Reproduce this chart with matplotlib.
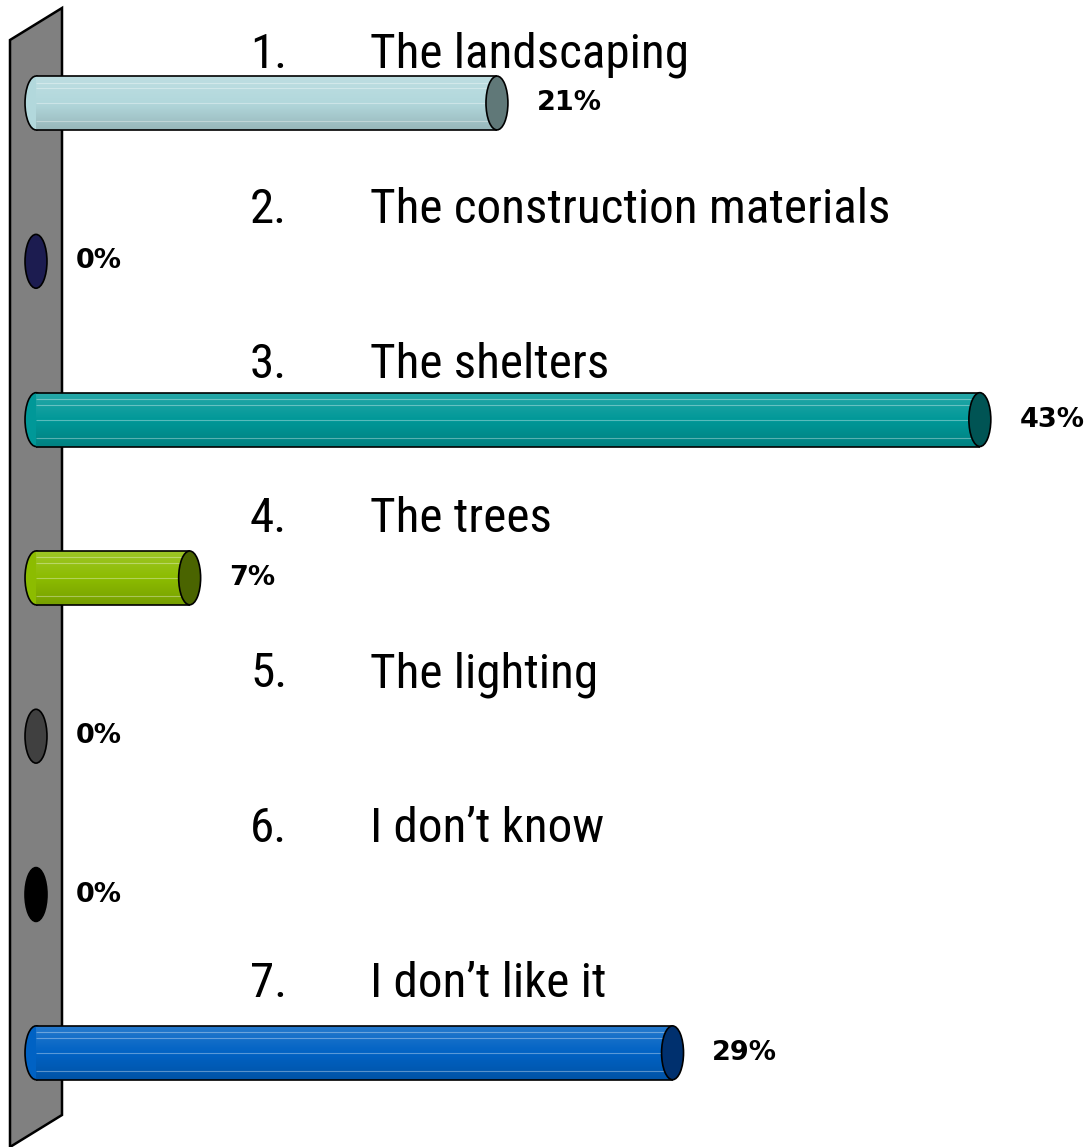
import numpy as np
import matplotlib.pyplot as plt
from matplotlib import font_manager
from matplotlib.patches import Ellipse, Polygon
from matplotlib.colors import LinearSegmentedColormap, to_rgb

# Data
numbers = ['1.', '2.', '3.', '4.', '5.', '6.', '7.']
categories = ['The landscaping', 'The construction materials', 'The shelters',
              'The trees', 'The lighting', 'I don\u2019t know', 'I don\u2019t like it']
values = [21, 0, 43, 7, 0, 0, 29]
body_colors = ['#B2D8DC', '#2A2A70', '#009898', '#8CBC00', '#5A5A5A', '#202020', '#0062C4']
cap_colors = ['#607878', '#1C1C50', '#005454', '#4A6400', '#404040', '#000000', '#00306E']

# pixel layout -> data units
px_per_unit = 21.95
x0_px = 36
bar_h = 0.34

fig = plt.figure(figsize=(10.84, 11.47), dpi=100)
ax = fig.add_axes([0, 0, 1, 1])
ax.set_xlim(-x0_px / px_per_unit, (1084 - x0_px) / px_per_unit)
ax.set_ylim((1147 - 103) / 158.3, -103 / 158.3)
ax.axis('off')
r = fig.canvas.get_renderer()

# pick the narrowest regular sans face among narrow/condensed fonts
sans = ('noto sans', 'open sans', 'roboto', 'dejavu sans', 'liberation sans', 'lato', 'inter')
cands = []
for f in font_manager.fontManager.ttflist:
    nm = f.name.lower()
    if 'mono' in nm or not nm.startswith(sans):
        continue
    if ('narrow' in nm or 'condensed' in nm or str(f.stretch) in ('condensed', 'semi-condensed', 'extra-condensed', 'ultra-condensed')) \
            and f.weight in ('normal', 400, 'regular', 'book') and f.style == 'normal':
        cands.append(f.fname)
best, best_w = None, None
for fn in cands:
    try:
        t = ax.text(0, 0, categories[1], fontproperties=font_manager.FontProperties(fname=fn, size=40))
        w = t.get_window_extent(r).width
        t.remove()
    except Exception:
        continue
    if best_w is None or w < best_w:
        best, best_w = fn, w

def px(x):
    return (x - x0_px) / px_per_unit

def py(y):
    return (y - 103) / 158.3

# the wall
wall = Polygon([(px(10), py(40)), (px(62), py(8)), (px(62), py(1115)), (px(10), py(1147))],
               closed=True, facecolor='#808080', edgecolor='black', lw=1.8, zorder=1)
ax.add_patch(wall)

def blend(c, other, t):
    c = np.array(to_rgb(c))
    o = np.array(to_rgb(other))
    return tuple(c * (1 - t) + o * t)

cap_w = 1.0
for i, (v, bc, cc) in enumerate(zip(values, body_colors, cap_colors)):
    if v > 0:
        # left rounded end
        ax.add_patch(Ellipse((0, i), cap_w, bar_h, facecolor=bc, edgecolor='black', lw=1.2, zorder=2))
        bars = ax.barh(i, v, height=bar_h, left=0, color=bc, edgecolor='none', zorder=3)
        cmap = LinearSegmentedColormap.from_list('g', [blend(bc, 'white', 0.15), bc, blend(bc, 'black', 0.15)])
        grad = np.linspace(0, 1, 64).reshape(-1, 1)
        im = ax.imshow(grad, cmap=cmap, aspect='auto', extent=[0, v, i + bar_h / 2, i - bar_h / 2],
                       zorder=3.1, interpolation='bilinear')
        im.set_clip_path(bars.patches[0])
        for f in (-0.38, -0.28, 0.0, 0.34):
            ax.hlines(i + f * bar_h, 0, v, colors='white', lw=0.8, alpha=0.35, zorder=3.2)
        ax.hlines([i - bar_h / 2, i + bar_h / 2], 0, v, colors='black', lw=1.2, zorder=3.3)
        ax.add_patch(Ellipse((v, i), cap_w, bar_h, facecolor=cc, edgecolor='black', lw=1.2, zorder=4))
    else:
        ax.add_patch(Ellipse((0, i), cap_w, bar_h, facecolor=cc, edgecolor='black', lw=1.2, zorder=4))
    ax.text(v + 1.8, i, f'{v}%', fontsize=19.5, fontweight='bold', family='DejaVu Sans',
            va='center', ha='left', color='black', zorder=5)

# category labels above the bars
labels = []
for i, (n, c) in enumerate(zip(numbers, categories)):
    yb = py(68 + 154.8 * i)
    t1 = ax.text(px(250), yb, n, fontsize=40, va='baseline', ha='left', color='black')
    t2 = ax.text(px(370), yb, c, fontsize=40, va='baseline', ha='left', color='black')
    for t in (t1, t2):
        if best:
            t.set_fontproperties(font_manager.FontProperties(fname=best, size=40))
        labels.append(t)

# fit the longest label to the reference width (~520 px)
w = labels[3].get_window_extent(r).width
size = min(40 * 520 / w, 48)
for t in labels:
    t.set_fontsize(size)

plt.savefig('out.png', dpi=100)
